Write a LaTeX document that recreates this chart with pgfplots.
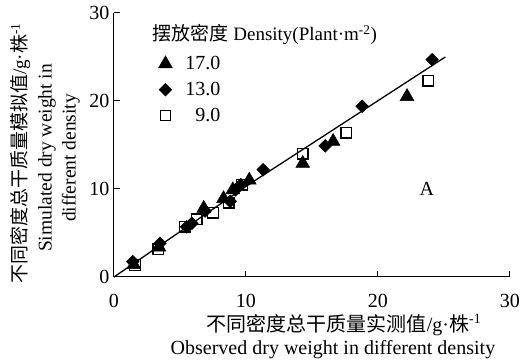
\documentclass[border=0pt]{standalone}
\usepackage{pgfplots}
\pgfplotsset{compat=1.18}
\usepackage{fontspec}
\setmainfont{Liberation Serif}
\newfontfamily\cjk{Noto Sans CJK SC}
\begin{document}
\begin{tikzpicture}
\begin{axis}[
  scale only axis, width=396pt, height=264pt,
  xmin=0, xmax=30, ymin=0, ymax=30,
  axis lines=left, axis line style={-, line width=1pt},
  xtick={0,10,20,30}, ytick={0,10,20,30},
  tick align=inside, major tick length=6pt,
  tick style={black, line width=1pt},
  /pgf/number format/assume math mode=true,
  tick label style={font=\fontsize{20}{20}\selectfont},
  xticklabel style={yshift=-14pt},
  yticklabel style={xshift=-1pt},
  clip=false,
  legend style={draw=none, fill=none, at={(rel axis cs:0.112,0.8435)}, anchor=north west,
    font=\fontsize{20}{20}\selectfont, row sep=7pt, column sep=11pt, inner sep=0pt},
  legend cell align=left,
]
\coordinate (O) at (rel axis cs:0,0);
% 17.0 triangles
\addplot[only marks, mark=triangle*, mark size=8pt, black, mark options={line width=0.5pt}] coordinates {
(1.5,1.4) (3.4,3.4) (6.8,7.8) (8.3,8.9) (9.0,9.9) (10.25,11.0) (14.3,12.9) (16.6,15.4) (22.2,20.5)
};
\addlegendentry{17.0}
% 13.0 diamonds
\addplot[only marks, mark=square*, mark size=4.5pt, black, mark options={rotate=45, line width=0.5pt}] coordinates {
(1.42,1.74) (3.48,3.83) (5.5,5.7) (5.9,6.1) (6.9,7.5) (8.8,8.6) (9.2,9.9) (9.6,10.5) (11.3,12.2) (16.0,14.9) (18.8,19.4) (24.1,24.7)
};
\addlegendentry{13.0}
% 9.0 squares
\addplot[only marks, mark=square, mark size=5.3pt, black, mark options={line width=1.3pt, fill=white}] coordinates {
(1.6,1.36) (3.36,3.15) (5.38,5.7) (6.26,6.55) (7.5,7.3) (8.7,8.45) (9.7,10.5) (14.3,14.0) (17.6,16.4) (23.8,22.3)
};
\addlegendentry{\hphantom{1}9.0}
\addplot[black, line width=1.3pt, forget plot] coordinates {(0,0) (10,10.3) (25.1,25.0)};
\node[anchor=west, font=\fontsize{19}{19}\selectfont, inner sep=0pt] at (rel axis cs:0.097,0.917) {{\cjk 摆放密度} Density(Plant·m\textsuperscript{-2})};
\node[font=\fontsize{20}{20}\selectfont] at (axis cs:23.7,10) {A};
% axis labels
\node[font=\fontsize{20}{20}\selectfont, inner sep=0pt] at (rel axis cs:0.581,-0.182) {{\cjk 不同密度总干质量实测值}/g·{\cjk 株}\textsuperscript{-1}};
\node[font=\fontsize{20}{20}\selectfont, inner sep=0pt] at (rel axis cs:0.553,-0.2765) {Observed dry weight in different density};
\node[font=\fontsize{19}{19}\selectfont, inner sep=0pt, rotate=90] at (rel axis cs:-0.237,0.468) {{\cjk 不同密度总干质量模拟值}/g·{\cjk 株}\textsuperscript{-1}};
\node[font=\fontsize{19.5}{19.5}\selectfont, inner sep=0pt, rotate=90] at (rel axis cs:-0.169,0.451) {Simulated dry weight in};
\node[font=\fontsize{19.5}{19.5}\selectfont, inner sep=0pt, rotate=90] at (rel axis cs:-0.109,0.451) {different density};
\end{axis}
\pgfresetboundingbox
\path (O) ++(-114pt,-86pt) rectangle ++(523pt,363pt);
\end{tikzpicture}
\end{document}
